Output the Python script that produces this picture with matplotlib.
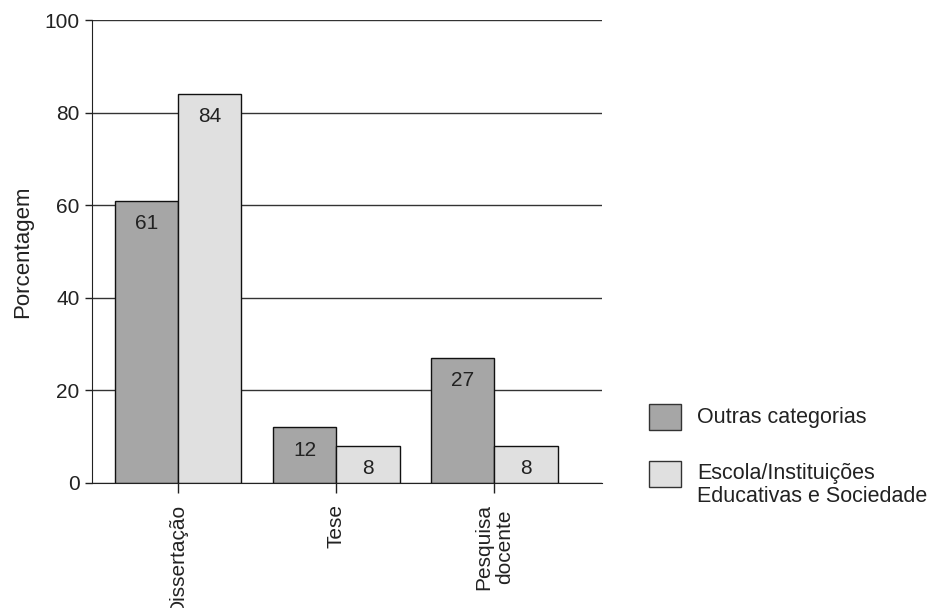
import matplotlib.pyplot as plt
from matplotlib.patches import Rectangle
import numpy as np

plt.rcParams['font.family'] = ['Liberation Sans', 'DejaVu Sans']

# dados
categorias = ['Dissertação', 'Tese', 'Pesquisa\ndocente']
outras = [61, 12, 27]
escola = [84, 8, 8]
series = ['Outras categorias', 'Escola/Instituições\nEducativas e Sociedade']
cores = ['#a6a6a6', '#e0e0e0']

fig = plt.figure(figsize=(9.33, 6.08), dpi=100)
ax = fig.add_axes([0.0986, 0.2056, 0.5466, 0.7615])

x = np.arange(len(categorias))
w = 0.4
b1 = ax.bar(x - w / 2, outras, w, color=cores[0], edgecolor='#111111', linewidth=1)
b2 = ax.bar(x + w / 2, escola, w, color=cores[1], edgecolor='#111111', linewidth=1)

for bars, vals in [(b1, outras), (b2, escola)]:
    for r, v in zip(bars, vals):
        ax.annotate(str(v), (r.get_x() + r.get_width() / 2, v), xytext=(0, -9.5),
                    textcoords='offset points', ha='center', va='top', fontsize=15, color='#222222')

ax.set_xlim(-0.545, 2.68)
ax.set_ylim(0, 100)
ax.set_yticks([0, 20, 40, 60, 80, 100])
ax.set_xticks(x)
ax.set_xticklabels(categorias, rotation=90, fontsize=15, multialignment='center',
                   color='#222222', linespacing=1.1)
ax.tick_params(axis='y', labelsize=15, length=5, width=1, colors='#222222', pad=4)
ax.tick_params(axis='x', length=7, width=1, colors='#222222', pad=8)
ax.set_ylabel('Porcentagem', fontsize=16, color='#222222', labelpad=8)

ax.yaxis.grid(True, color='#333333', linewidth=1)
ax.set_axisbelow(True)
for s in ['top', 'right']:
    ax.spines[s].set_visible(False)
ax.spines['left'].set_color('#222222')
ax.spines['bottom'].set_color('#222222')

# legenda desenhada à mão (quadrado alinhado à primeira linha do texto)
quad_y = [0.2928, 0.199]
texto_y = [0.314, 0.2023]
for cor, nome, qy, ty in zip(cores, series, quad_y, texto_y):
    fig.patches.append(Rectangle((0.6956, qy), 0.0343, 0.0435, transform=fig.transFigure,
                                 facecolor=cor, edgecolor='#333333', linewidth=1))
    fig.text(0.747, ty, nome, fontsize=15.5, va='center', ha='left', color='#222222', linespacing=1.1)

fig.savefig('out.png', dpi=100)
